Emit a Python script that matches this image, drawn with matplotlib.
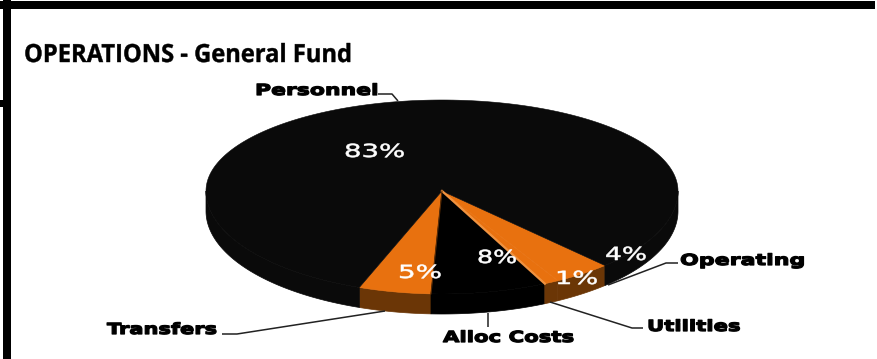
import numpy as np
import matplotlib
matplotlib.use("Agg")
import matplotlib.pyplot as plt
from matplotlib.patheffects import AbstractPathEffect
from matplotlib.transforms import Affine2D

# budget shares, in the order they run round the pie
categories = ["Transfers", "Alloc Costs", "Utilities", "Operating", "Personnel"]
shares = [5, 8, 1, 4, 83]
pct_labels = ["5%", "8%", "1%", "4%", "83%"]

ORANGE = "#e8710f"
ORANGE_SIDE = "#6b3606"
top_colors = [ORANGE, "#000000", ORANGE, ORANGE, "#0a0a0a"]
side_colors = [ORANGE_SIDE, "#000000", ORANGE_SIDE, ORANGE_SIDE, "#0a0a0a"]

# pie geometry in pixels (front half looks bigger because of the tilt)
CX, CY = 442, 191
RX = 236
RY_BACK, RY_FRONT = 91, 103
DEPTH = 20
START_ANGLE = 249.5


class StretchX(AbstractPathEffect):
    # widens the glyphs about a fixed pixel column, with an optional outline to fatten them
    def __init__(self, x0, sx, lw=0, color="black"):
        super().__init__()
        self.x0 = x0
        self.sx = sx
        self.lw = lw
        self.color = color

    def draw_path(self, renderer, gc, tpath, affine, rgbFace=None):
        st = Affine2D().translate(-self.x0, 0).scale(self.sx, 1).translate(self.x0, 0)
        gc0 = renderer.new_gc()
        gc0.copy_properties(gc)
        gc0.set_linewidth(self.lw)
        gc0.set_foreground(self.color)
        renderer.draw_path(gc0, tpath, affine + st, rgbFace)
        gc0.restore()


def arc_xy(a0, a1):
    t = np.radians(np.linspace(a0, a1, max(int(abs(a1 - a0)) * 2, 2)))
    ry = np.where(np.sin(t) > 0, RY_BACK, RY_FRONT)
    return CX + RX * np.cos(t), CY - ry * np.sin(t)


def put_text(s, x0, x1, base, size, color="black", family="DejaVu Sans", weight="bold", lw=0):
    t = ax.text(x0, base, s, fontsize=size, color=color, family=family, weight=weight,
                ha="left", va="baseline", zorder=6)
    w = t.get_window_extent(fig.canvas.get_renderer()).width
    t.set_path_effects([StretchX(x0, (x1 - x0) / w, lw, color)])
    return t


fig = plt.figure(figsize=(8.78, 3.59), dpi=100)
ax = fig.add_axes([0, 0, 1, 1])
ax.set_xlim(0, 878)
ax.set_ylim(359, 0)
ax.axis("off")

# frame
ax.fill_between([0, 875], 1, 9, color="black", lw=0, zorder=1)
ax.fill_between([3, 11], 0, 359, color="black", lw=0, zorder=1)
ax.fill_between([0, 4], 100, 107, color="black", lw=0, zorder=1)

# slice angles from the shares
sweeps = 360 * np.array(shares) / sum(shares)
ends = START_ANGLE + np.cumsum(sweeps)
starts = ends - sweeps

# side wall first, only where the rim faces the viewer
for a0, a1, c in zip(starts, ends, side_colors):
    for lo, hi in [(180, 360), (540, 720)]:
        b0, b1 = max(a0, lo), min(a1, hi)
        if b1 > b0:
            x, y = arc_xy(b0, b1)
            ax.fill(np.r_[x, x[::-1]], np.r_[y, y[::-1] + DEPTH], color=c, lw=0.5, zorder=2)

# top faces
for a0, a1, c in zip(starts, ends, top_colors):
    x, y = arc_xy(a0, a1)
    ax.fill(np.r_[CX, x], np.r_[CY, y], color=c, lw=0.4, zorder=3)

# light edge on the orange wedge, dark seam next to Alloc Costs
x, y = arc_xy(ends[1], ends[1] + 1)
ax.plot([CX, x[0]], [CY, y[0]], color="#f0923f", lw=1.6, zorder=4)
x, y = arc_xy(ends[0], ends[0] + 1)
ax.plot([CX, x[0]], [CY, y[0]], color="#5a2c05", lw=0.8, zorder=4)

# leader lines
leaders = {
    "Personnel": ([378, 392, 398], [94, 94, 101]),
    "Operating": ([678, 666, 608], [263, 263, 285]),
    "Utilities": ([643, 632, 550], [328, 328, 302]),
    "Alloc Costs": ([488, 488], [313, 327]),
    "Transfers": ([222, 237, 385], [334, 334, 311]),
}
for name in categories:
    xs, ys = leaders[name]
    ax.plot(xs, ys, color="#222222", lw=1.1, solid_capstyle="butt", zorder=5)

# title
put_text("OPERATIONS - General Fund", 24, 353, 62, 18, family="Open Sans", lw=0.3)

# category names
put_text("Personnel", 255, 378, 95, 11, lw=0.9)
put_text("Operating", 680, 805, 265, 11, lw=0.9)
put_text("Utilities", 647, 740, 331, 11, lw=0.9)
put_text("Alloc Costs", 443, 573, 342, 11, lw=0.9)
put_text("Transfers", 107, 217, 334, 11, lw=0.9)

# percentages on the pie
pct_pos = [(398, 442, 278), (477, 517, 263), (555, 598, 284), (605, 647, 260), (344, 405, 157)]
for s, (x0, x1, base) in zip(pct_labels, pct_pos):
    put_text(s, x0, x1, base, 13, color="white", weight="normal", lw=0.4)

fig.savefig("out.png", dpi=100)
